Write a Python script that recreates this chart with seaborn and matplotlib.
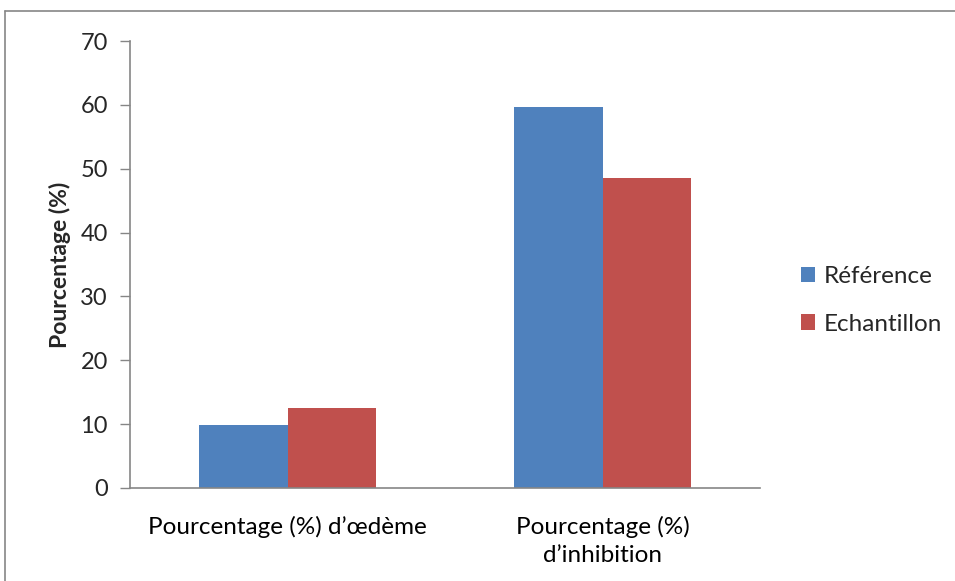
import matplotlib
matplotlib.use("Agg")
import matplotlib.pyplot as plt
from matplotlib.lines import Line2D
import seaborn as sns
import pandas as pd

categories = ["Pourcentage (%) d’œdème", "Pourcentage (%)\nd’inhibition"]
series = ["Référence", "Echantillon"]
reference_values = [9.9, 59.7]
sample_values = [12.5, 48.6]
y_ticks = [0, 10, 20, 30, 40, 50, 60, 70]

df = pd.DataFrame({
    "categorie": categories * 2,
    "serie": [series[0]] * 2 + [series[1]] * 2,
    "valeur": reference_values + sample_values,
})

sns.set_theme(style="white")
plt.rcParams["font.family"] = ["Lato", "DejaVu Sans"]

W, H = 955, 581
fig = plt.figure(figsize=(W / 100, H / 100), dpi=100)
ax = fig.add_axes([130 / W, (H - 488) / H, (760 - 130) / W, (488 - 41) / H])

sns.barplot(data=df, x="categorie", y="valeur", hue="serie",
            palette=["#4F81BD", "#C0504D"], width=0.565, saturation=1,
            edgecolor="none", errorbar=None, ax=ax, legend=True)

grey = "#868686"
fs = 17.5
ax.set_xlim(-0.5, 1.5)
ax.set_ylim(0, 70)
ax.set_yticks(y_ticks)
ax.set_yticklabels([str(v) for v in y_ticks], fontsize=17)
ax.set_xticks([0, 1])
ax.set_xticklabels(categories, fontsize=fs)
ax.set_xticks([-0.5, 0.5, 1.5], minor=True)
ax.tick_params(axis="x", which="major", length=0, pad=20, colors="black")
ax.tick_params(axis="x", which="minor", length=6, width=1, color=grey, direction="out")
ax.tick_params(axis="y", length=7, width=1, color=grey, direction="out", pad=9, left=True)
for lbl in ax.get_xticklabels():
    lbl.set_horizontalalignment("center")
    lbl.set_linespacing(1.4)

for side in ["top", "right"]:
    ax.spines[side].set_visible(False)
for side in ["left", "bottom"]:
    ax.spines[side].set_color(grey)
    ax.spines[side].set_linewidth(1.2)

ax.set_xlabel("")
ax.set_ylabel("Pourcentage (%)", fontsize=16.5, fontweight="bold")
ax.yaxis.set_label_coords(-0.093, 0.5)

handles, labels = ax.get_legend_handles_labels()
ax.legend(handles, labels, loc="center left", bbox_to_anchor=(1.03, 0.42),
          frameon=False, fontsize=fs, handlelength=0.6, handleheight=0.6,
          handletextpad=0.35, labelspacing=1.1)

# outer chart frame
fig.add_artist(Line2D([5 / W, 5 / W], [0, (H - 11) / H], color=grey, lw=1.2,
                      transform=fig.transFigure))
fig.add_artist(Line2D([5 / W, 1], [(H - 11) / H, (H - 11) / H], color=grey, lw=1.2,
                      transform=fig.transFigure))

fig.savefig("out.png", dpi=100)
